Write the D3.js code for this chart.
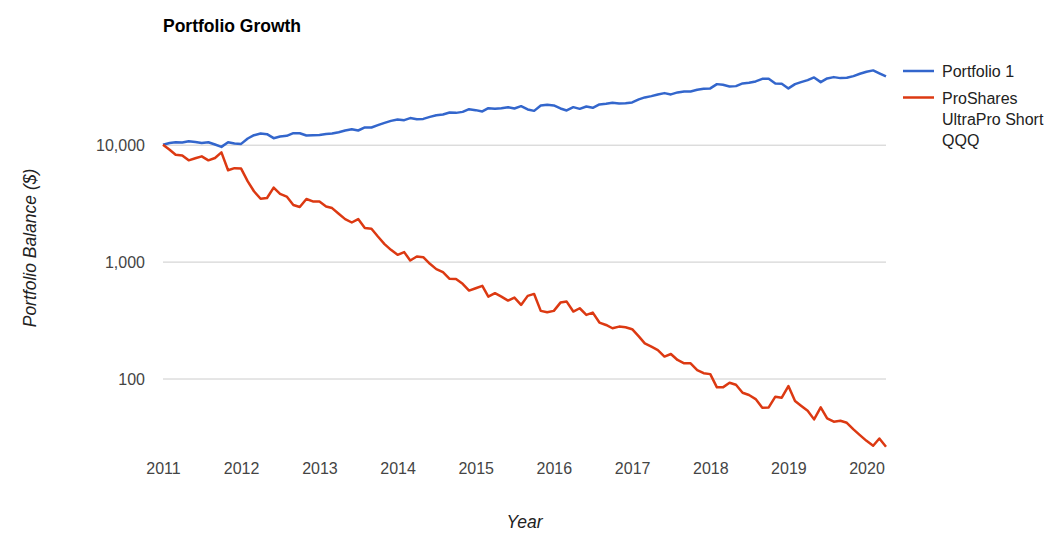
<!DOCTYPE html>
<html>
<head>
<meta charset="utf-8">
<script src="https://cdn.jsdelivr.net/npm/d3@7"></script>
<style>
  body { margin: 0; background: #fff; }
  svg text { font-family: Arial, "Liberation Sans", sans-serif; }
</style>
</head>
<body>
<svg id="chart" width="1062" height="550"></svg>
<script>
// monthly balances, Jan 2011 .. Apr 2020
var firstMonth = new Date(2011, 0, 1);
var lastMonth = new Date(2020, 3, 1);

var portfolio1 = [
  10000, 10350, 10500, 10450, 10700, 10550, 10350, 10500, 10040, 9580,
  10500, 10240, 10160, 11300, 12060, 12470, 12300, 11370, 11750, 11900,
  12540, 12540, 11990, 12060, 12130, 12370, 12470, 12800, 13230, 13580,
  13230, 14040, 14040, 14690, 15370, 15990, 16440, 16210, 16900, 16540,
  16630, 17300, 17890, 18140, 18870, 18720, 19090, 20140, 19750, 19250,
  20540, 20260, 20540, 20950, 20420, 21370, 20020, 19480, 21670, 21920,
  21670, 20420, 19630, 20950, 20260, 21240, 20670, 22100, 22360, 22800,
  22540, 22670, 22990, 24390, 25370, 26030, 26920, 27620, 26920, 28000,
  28560, 28560, 29470, 30060, 30300, 32970, 32520, 31510, 31700, 33430,
  33830, 34780, 36610, 36610, 33430, 33170, 30300, 32970, 34300, 35680,
  37640, 34300, 36900, 37860, 37120, 37340, 38610, 40420, 42040, 43210,
  40740, 38380
];

var sqqq = [
  10000, 9050, 8200, 8100, 7350, 7650, 7950, 7350, 7700, 8600,
  6050, 6300, 6250, 4850, 4000, 3450, 3500, 4300, 3800, 3600,
  3050, 2930, 3430, 3270, 3260, 2960, 2870, 2565, 2310, 2160,
  2310, 1934, 1908, 1639, 1411, 1260, 1142, 1205, 1021, 1105,
  1092, 957, 862, 812, 712, 710, 645, 565, 592, 620,
  502, 537, 502, 464, 492, 426, 509, 529, 379, 369,
  379, 446, 455, 374, 399, 350, 366, 301, 287, 269,
  278, 274, 264, 229, 200, 187, 175, 154, 162, 144,
  135, 135, 118, 111, 109, 84, 84, 92, 88.5, 75.6,
  72.2, 66.7, 56.2, 56.6, 69.9, 68.5, 86.2, 64.2, 58.5, 53,
  44.7, 56.6, 45.6, 42.7, 43.5, 41.8, 36.7, 32.8, 29.3, 26.6,
  30.7, 26.1
];

var seriesNames = ["Portfolio 1", "ProShares UltraPro Short QQQ"];
var seriesColors = ["#3366cc", "#dc3912"];
var legendLines = [["Portfolio 1"], ["ProShares", "UltraPro Short", "QQQ"]];
var yTicks = [100, 1000, 10000];

var months = d3.timeMonth.range(firstMonth, d3.timeMonth.offset(lastMonth, 1));

var left = 163, right = 886, bottom = 450;

var svg = d3.select("#chart");

var x = d3.scaleTime().domain([firstMonth, lastMonth]).range([left, right]);
var y = d3.scaleLog().domain([100, 10000]).range([378.5, 144.7]);

// y gridlines + labels
var gY = svg.append("g")
    .attr("transform", "translate(" + left + ",0)")
    .call(d3.axisLeft(y)
        .tickValues(yTicks)
        .tickSize(-(right - left))
        .tickPadding(18)
        .tickFormat(d3.format(",")));
gY.select(".domain").remove();
gY.selectAll(".tick line").attr("stroke", "#cccccc");
gY.selectAll(".tick text")
    .attr("fill", "#444")
    .attr("dy", "0.38em")
    .style("font-size", "16px");

// x labels
var gX = svg.append("g")
    .attr("transform", "translate(0," + bottom + ")")
    .call(d3.axisBottom(x)
        .ticks(d3.timeYear.every(1))
        .tickSize(0)
        .tickPadding(12.5)
        .tickFormat(d3.timeFormat("%Y")));
gX.select(".domain").remove();
gX.selectAll(".tick text")
    .attr("fill", "#444")
    .style("font-size", "16px");

// lines
var line = d3.line()
    .x(function(d, i) { return x(months[i]); })
    .y(function(d) { return y(d); });

[portfolio1, sqqq].forEach(function(s, k) {
  svg.append("path")
      .datum(s)
      .attr("fill", "none")
      .attr("stroke", seriesColors[k])
      .attr("stroke-width", 2.5)
      .attr("stroke-linejoin", "round")
      .attr("d", line)
      .append("title").text(seriesNames[k]);
});

// title
svg.append("text")
    .attr("x", left)
    .attr("y", 32)
    .attr("fill", "#000")
    .style("font-size", "17.5px")
    .style("font-weight", "bold")
    .text("Portfolio Growth");

// axis titles
svg.append("text")
    .attr("x", (left + right) / 2)
    .attr("y", 528)
    .attr("text-anchor", "middle")
    .attr("fill", "#222")
    .style("font-size", "17.5px")
    .style("font-style", "italic")
    .text("Year");

svg.append("text")
    .attr("transform", "translate(36,248) rotate(-90)")
    .attr("text-anchor", "middle")
    .attr("fill", "#222")
    .style("font-size", "17.5px")
    .style("font-style", "italic")
    .text("Portfolio Balance ($)");

// legend
var legendTop = [71, 97.5];
legendLines.forEach(function(rows, k) {
  var g = svg.append("g");
  g.append("line")
      .attr("x1", 903).attr("x2", 934)
      .attr("y1", legendTop[k]).attr("y2", legendTop[k])
      .attr("stroke", seriesColors[k])
      .attr("stroke-width", 2.5);
  rows.forEach(function(r, j) {
    g.append("text")
        .attr("x", 942)
        .attr("y", legendTop[k] + 6 + j * 21)
        .attr("fill", "#222")
        .style("font-size", "16px")
        .text(r);
  });
});
</script>
</body>
</html>
